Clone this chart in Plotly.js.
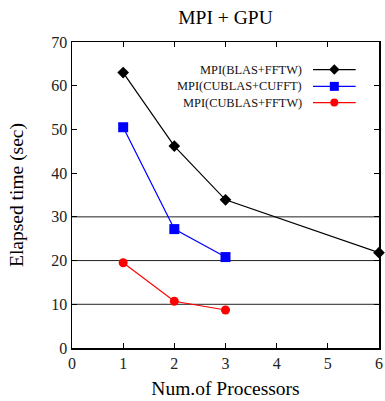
<!DOCTYPE html>
<html><head><meta charset="utf-8">
<script src="https://cdn.plot.ly/plotly-3.0.1.min.js"></script>
<style>html,body{margin:0;padding:0;background:#fff}#chart{width:385px;height:401px}</style>
</head><body><div id="chart"></div>
<script>
const seriesNames = ["MPI(BLAS+FFTW)", "MPI(CUBLAS+CUFFT)", "MPI(CUBLAS+FFTW)"];
const procBlas = [1, 2, 3, 6];
const timeBlas = [63.0, 46.2, 33.9, 21.8];
const procCublasCufft = [1, 2, 3];
const timeCublasCufft = [50.5, 27.2, 20.8];
const procCublasFftw = [1, 2, 3];
const timeCublasFftw = [19.5, 10.7, 8.7];
const gridValues = [10, 20, 30];
const xTicks = [0, 1, 2, 3, 4, 5, 6];
const yTicks = [0, 10, 20, 30, 40, 50, 60, 70];

const colors = ["#000000", "#0000ff", "#ff0000"];
const symbols = ["diamond", "square", "circle"];
const sizes = [9, 10, 9];
const legSizes = [8, 9, 8];
const xs = [procBlas, procCublasCufft, procCublasFftw];
const ys = [timeBlas, timeCublasCufft, timeCublasFftw];

const traces = xs.map((x, i) => ({
  x: x, y: ys[i], type: "scatter", mode: "lines+markers", name: seriesNames[i],
  line: {color: colors[i], width: 1.2},
  marker: {color: colors[i], symbol: symbols[i], size: sizes[i]},
  showlegend: false, cliponaxis: false
}));

// legend keys on an overlay axis (0..1)
const legY = [0.91, 0.855, 0.802];
const annotations = [];
seriesNames.forEach((n, i) => {
  traces.push({
    x: [0.785, 0.8545, 0.924], y: [legY[i], legY[i], legY[i]], xaxis: "x2", yaxis: "y2",
    type: "scatter", mode: "lines", line: {color: colors[i], width: 1.2},
    showlegend: false, hoverinfo: "skip"
  });
  traces.push({
    x: [0.8545], y: [legY[i]], xaxis: "x2", yaxis: "y2",
    type: "scatter", mode: "markers", marker: {color: colors[i], symbol: symbols[i], size: legSizes[i]},
    showlegend: false, hoverinfo: "skip"
  });
  annotations.push({
    xref: "paper", yref: "paper", x: 0.757, y: legY[i], xanchor: "right", yanchor: "middle",
    text: n, showarrow: false, font: {family: "Liberation Serif", size: 12.4, color: "#111"}
  });
});

const shapes = gridValues.map(v => ({
  type: "line", xref: "paper", yref: "y", x0: 0, x1: 1, y0: v, y1: v,
  line: {color: "#222", width: 1}, layer: "below"
}));

const axisCommon = {
  showgrid: false, zeroline: false, showline: true, mirror: "ticks",
  linecolor: "#000", linewidth: 1.5, ticks: "inside", ticklen: 5, tickcolor: "#000", tickwidth: 1,
  tickfont: {family: "Liberation Serif", size: 16, color: "#222"}
};

const layout = {
  width: 385, height: 401,
  margin: {l: 72, r: 6, t: 42, b: 53},
  paper_bgcolor: "#fff", plot_bgcolor: "#fff",
  title: {text: "MPI + GPU", font: {family: "Liberation Serif", size: 19.5, color: "#000"}, x: 0.5, xref: "paper", y: 0.957, yanchor: "middle"},
  xaxis: Object.assign({}, axisCommon, {range: [0, 6], tickvals: xTicks,
    title: {text: "Num.of Processors", font: {family: "Liberation Serif", size: 19.5, color: "#000"}, standoff: 10}}),
  yaxis: Object.assign({}, axisCommon, {range: [0, 70], tickvals: yTicks,
    title: {text: "Elapsed time (sec)", font: {family: "Liberation Serif", size: 19.5, color: "#000"}, standoff: 22}}),
  xaxis2: {overlaying: "x", range: [0, 1], visible: false, fixedrange: true},
  yaxis2: {overlaying: "y", range: [0, 1], visible: false, fixedrange: true},
  shapes: shapes,
  annotations: annotations,
  showlegend: false
};

Plotly.newPlot("chart", traces, layout, {displayModeBar: false, staticPlot: true});
</script></body></html>
